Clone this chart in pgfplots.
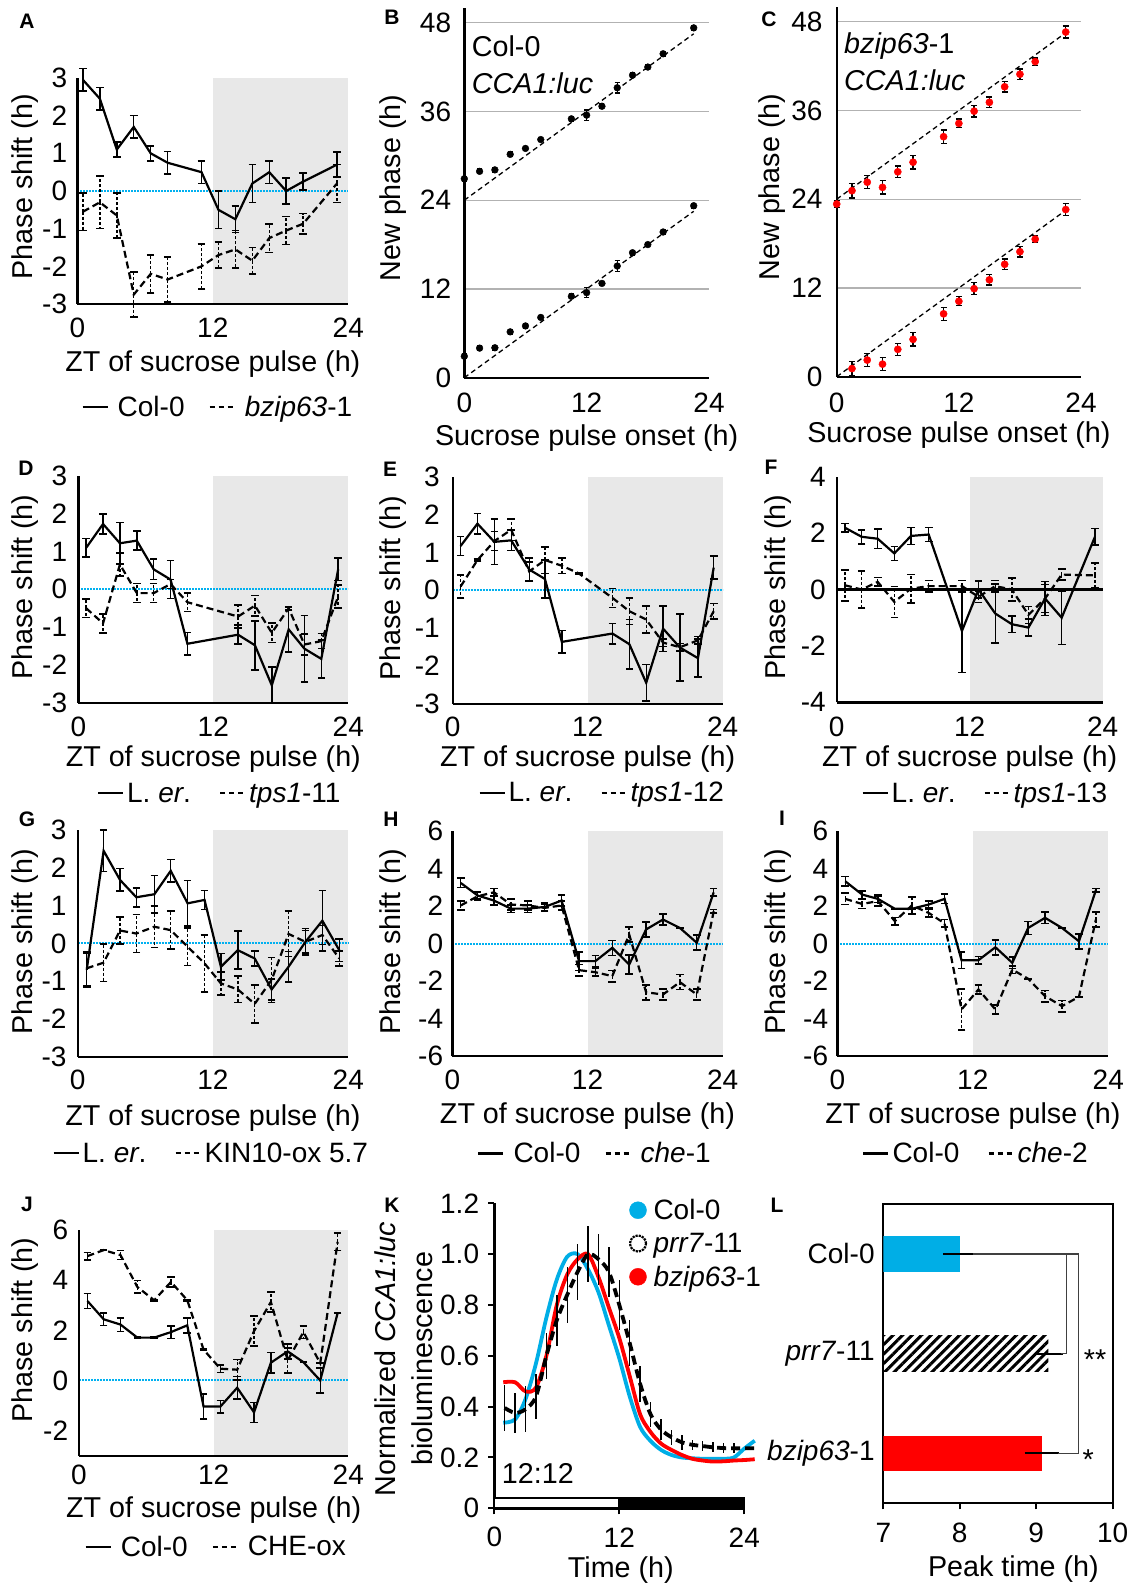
\documentclass[border=0pt]{standalone}
\usepackage{fontspec}
\setmainfont{Liberation Sans}
\usepackage{pgfplots}
\pgfplotsset{compat=1.18}
\usetikzlibrary{patterns.meta}

\definecolor{nightgrey}{RGB}{232,232,232}
\definecolor{zcyan}{RGB}{0,176,240}
\definecolor{kcyan}{RGB}{0,174,230}
\definecolor{kred}{RGB}{255,0,0}

\newcommand\tk{\fontsize{28}{31}\selectfont}
\newcommand\lb{\fontsize{28.7}{32}\selectfont}
\newcommand\pl{\fontsize{21}{24}\selectfont\bfseries}
% grey night half and the zero line of a phase-shift panel
\newcommand\bg[2]{%
  \fill[nightgrey] (axis cs:12,#1) rectangle (axis cs:24,#2);
  \draw[zcyan, densely dotted, line width=2pt] (axis cs:0,0) -- (axis cs:24,0);}

\pgfplotsset{
  base/.style={
    scale only axis, anchor=south west, clip=false,
    axis x line*=bottom, axis y line*=left,
    axis line style={line width=2.4pt, -},
    major tick length=0pt,
    tick label style={font=\tk, inner sep=0pt},
    xticklabel style={anchor=center},
    yticklabel style={anchor=east},
    label style={font=\lb, inner sep=0pt},
    xlabel style={at={(axis description cs:0.5,0)}, anchor=center},
    ylabel style={anchor=center},
  },
  ps/.style={base, axis on top,
    xmin=0, xmax=24, xtick={0,12,24}, xticklabels={0,12,24},
    xlabel={ZT of sucrose pulse (h)}, ylabel={Phase shift (h)},
    legend columns=2,
    legend style={draw=none, fill=none, font=\tk, inner sep=0pt, anchor=center,
      nodes={inner sep=0pt},
      /tikz/every odd column/.append style={column sep=9pt},
      /tikz/every even column/.append style={column sep=24pt}},
    legend image code/.code={\draw[##1] (0pt,0pt) -- (25pt,0pt);},
  },
  tight/.style={legend style={/tikz/every odd column/.append style={column sep=3pt},
      /tikz/every even column/.append style={column sep=28pt}}},
  sl/.style={black, line width=2.2pt, solid, forget plot,
    error bars/.cd, y dir=both, y explicit, error mark=|,
    error bar style={line width=1.4pt, solid},
    error mark options={line width=1.6pt, mark size=3.8pt, solid}},
  dl/.style={black, line width=2.2pt, dash pattern=on 7pt off 4pt, forget plot,
    error bars/.cd, y dir=both, y explicit, error mark=|,
    error bar style={line width=1.4pt, dash pattern=on 3pt off 2pt},
    error mark options={line width=1.6pt, mark size=3.8pt, solid}},
}
\newcommand\legs[2]{%
  \addlegendimage{black, line width=2.2pt}
  \addlegendentry{#1}
  \addlegendimage{black, line width=2.2pt, dash pattern=on 5pt off 4pt}
  \addlegendentry{#2}}

\begin{document}
\begin{tikzpicture}

% ---------- A ----------
\begin{axis}[ps, at={(77.3pt,-304pt)}, width=271pt, height=226pt,
  ymin=-3, ymax=3, ytick={-3,-2,-1,0,1,2,3}, yticklabels={-3,-2,-1,0,1,2,3},
  xticklabel style={yshift=-24pt}, yticklabel style={xshift=-10pt},
  xlabel style={yshift=-60pt}, ylabel style={at={(axis description cs:-0.193,0.519)}},
  legend style={at={(axis description cs:0.515,-0.455)}}]
\bg{-3}{3}
\legs{Col-0}{\textit{bzip63}-1}
\addplot[sl] table[y error index=2] {
0.5 2.95 0.3
2 2.45 0.3
3.5 1.1 0.2
5 1.7 0.3
6.5 1.0 0.2
8 0.75 0.3
11 0.5 0.3
12.5 -0.5 0.5
14 -0.75 0.35
15.5 0.2 0.5
17 0.5 0.3
18.5 0.0 0.35
20 0.25 0.22
23 0.7 0.33
};
\addplot[dl] table[y error index=2] {
0.5 -0.55 0.5
2 -0.3 0.7
3.5 -0.65 0.6
5 -2.75 0.6
6.5 -2.2 0.5
8 -2.35 0.6
11 -2.0 0.6
12.5 -1.7 0.35
14 -1.55 0.5
15.5 -1.85 0.35
17 -1.25 0.38
18.5 -1.05 0.37
20 -0.87 0.27
23 0.2 0.5
};
\end{axis}

% ---------- B ----------
\begin{axis}[base, at={(464.3pt,-377.7pt)}, width=244.7pt, height=369.8pt,
  xmin=0, xmax=24, ymin=0, ymax=50, xtick={0,12,24}, xticklabels={0,12,24},
  ytick={0,12,24,36,48}, yticklabels={0,12,24,36,48},
  ymajorgrids, grid style={line width=1.2pt, gray!60},
  xticklabel style={yshift=-25pt}, yticklabel style={xshift=-13pt},
  xlabel={Sucrose pulse onset (h)}, ylabel={New phase (h)},
  xlabel style={yshift=-60pt}, ylabel style={at={(axis description cs:-0.291,0.513)}}]
\addplot[black, line width=1.3pt, dash pattern=on 5pt off 3.5pt] coordinates {(0,0) (22.5,22.5)};
\addplot[black, line width=1.3pt, dash pattern=on 5pt off 3.5pt] coordinates {(0,24) (22.5,46.5)};
\addplot[only marks, mark=*, mark size=3.4pt, black, error bars/.cd, y dir=both, y explicit, error mark=|,
  error bar style={line width=1.3pt}, error mark options={line width=1.3pt, mark size=2.5pt}]
  table[y error index=2] {
0 2.9 0.3
1.5 4.0 0.3
3 4.05 0.3
4.5 6.2 0.3
6 7.0 0.3
7.5 8.15 0.3
10.5 11.0 0.3
12 11.5 0.7
13.5 12.75 0.3
15 15.1 0.7
16.5 16.9 0.3
18 18.0 0.3
19.5 19.7 0.3
22.5 23.25 0.3
0 26.9 0.3
1.5 27.9 0.3
3 28.1 0.3
4.5 30.2 0.3
6 31.0 0.3
7.5 32.2 0.3
10.5 35.0 0.3
12 35.5 0.7
13.5 36.7 0.3
15 39.2 0.7
16.5 40.9 0.3
18 42.0 0.3
19.5 43.8 0.3
22.5 47.3 0.3
};
\node[anchor=base west, inner sep=0pt, font=\lb] at (axis cs:0.73,43.4) {Col-0};
\node[anchor=base west, inner sep=0pt, font=\lb] at (axis cs:0.73,38.4) {\textit{CCA1:luc}};
\end{axis}

% ---------- C ----------
\begin{axis}[base, at={(836.7pt,-376.7pt)}, width=244.3pt, height=369.8pt,
  xmin=0, xmax=24, ymin=0, ymax=50, xtick={0,12,24}, xticklabels={0,12,24},
  ytick={0,12,24,36,48}, yticklabels={0,12,24,36,48},
  ymajorgrids, grid style={line width=1.2pt, gray!60},
  xticklabel style={yshift=-26pt}, yticklabel style={xshift=-14pt},
  xlabel={Sucrose pulse onset (h)}, ylabel={New phase (h)},
  xlabel style={yshift=-58pt}, ylabel style={at={(axis description cs:-0.266,0.513)}}]
\addplot[black, line width=1.3pt, dash pattern=on 5pt off 3.5pt] coordinates {(0,0) (22.5,22.5)};
\addplot[black, line width=1.3pt, dash pattern=on 5pt off 3.5pt] coordinates {(0,24) (22.5,46.5)};
\addplot[only marks, mark=*, mark size=3.6pt, color=kred, error bars/.cd, y dir=both, y explicit, error mark=|,
  error bar style={line width=1.3pt, black}, error mark options={line width=1.3pt, mark size=3pt, black}]
  table[y error index=2] {
1.5 1.1 1.0
3 2.25 0.9
4.5 1.7 0.9
6 3.7 0.8
7.5 5.05 0.9
10.5 8.5 0.9
12 10.2 0.6
13.5 11.9 0.8
15 13.1 0.7
16.5 15.2 0.7
18 16.9 0.7
19.5 18.6 0.5
22.5 22.6 0.8
0 23.35 0.5
1.5 25.15 1.0
3 26.3 0.9
4.5 25.6 0.9
6 27.7 0.8
7.5 29.0 0.9
10.5 32.45 0.9
12 34.25 0.6
13.5 35.9 0.8
15 37.1 0.7
16.5 39.2 0.7
18 40.9 0.7
19.5 42.6 0.5
22.5 46.6 0.8
};
\node[anchor=base west, inner sep=0pt, font=\lb] at (axis cs:0.72,43.7) {\textit{bzip63}-1};
\node[anchor=base west, inner sep=0pt, font=\lb] at (axis cs:0.72,38.7) {\textit{CCA1:luc}};
\end{axis}

% ---------- D ----------
\begin{axis}[ps, tight, at={(78.3pt,-702.7pt)}, width=270pt, height=226.7pt,
  ymin=-3, ymax=3, ytick={-3,-2,-1,0,1,2,3}, yticklabels={-3,-2,-1,0,1,2,3},
  xticklabel style={yshift=-24pt}, yticklabel style={xshift=-11pt},
  xlabel style={yshift=-56pt}, ylabel style={at={(axis description cs:-0.197,0.51)}},
  legend style={at={(axis description cs:0.52,-0.4)}}]
\bg{-3}{3}
\legs{L. \textit{er}.}{\textit{tps1}-11}
\addplot[sl] table[y error index=2] {
0.7 1.1 0.25
2.2 1.73 0.27
3.7 1.22 0.55
5.2 1.29 0.25
6.7 0.53 0.27
8.2 0.26 0.5
9.7 -1.44 0.3
14.2 -1.2 0.25
15.7 -1.48 0.65
17.2 -2.54 0.48
18.7 -1.06 0.6
20.1 -1.57 0.88
21.6 -1.84 0.5
23.1 0.53 0.3
};
\addplot[dl] table[y error index=2] {
0.7 -0.5 0.25
2.2 -0.9 0.25
3.7 0.66 0.3
5.2 -0.1 0.25
6.7 -0.1 0.25
8.2 0.14 0.12
9.7 -0.34 0.25
14.2 -0.72 0.3
15.7 -0.43 0.27
17.2 -1.15 0.26
18.7 -0.5 0.05
20.1 -1.46 0.28
21.6 -1.37 0.2
23.1 -0.19 0.3
};
\end{axis}

% ---------- E ----------
\begin{axis}[ps, tight, at={(452.7pt,-704pt)}, width=270pt, height=227.3pt,
  ymin=-3, ymax=3, ytick={-3,-2,-1,0,1,2,3}, yticklabels={-3,-2,-1,0,1,2,3},
  xticklabel style={yshift=-23pt}, yticklabel style={xshift=-12.7pt},
  xlabel style={yshift=-55pt}, ylabel style={at={(axis description cs:-0.22,0.51)}},
  legend style={at={(axis description cs:0.55,-0.39)}}]
\bg{-3}{3}
\legs{L. \textit{er}.}{\textit{tps1}-12}
\addplot[sl] table[y error index=2] {
0.7 1.17 0.25
2.2 1.76 0.27
3.7 1.28 0.6
5.2 1.32 0.27
6.8 0.55 0.3
8.2 0.3 0.5
9.7 -1.36 0.3
14.2 -1.14 0.27
15.7 -1.42 0.65
17.2 -2.44 0.48
18.7 -1.01 0.6
20.2 -1.51 0.88
21.8 -1.79 0.5
23.2 0.6 0.3
};
\addplot[dl] table[y error index=2] {
0.7 0.1 0.3
2.2 0.8 0.02
3.7 1.3 0.25
5.2 1.6 0.28
6.8 0.5 0.25
8.2 0.8 0.35
9.7 0.65 0.2
11.2 0.45 0.02
14.2 -0.2 0.25
15.7 -0.55 0.35
17.2 -0.77 0.35
18.7 -1.38 0.1
20.2 -1.5 0.1
21.8 -1.32 0.1
23.2 -0.55 0.2
};
\end{axis}

% ---------- F ----------
\begin{axis}[ps, tight, at={(836.7pt,-702.3pt)}, width=266pt, height=225.6pt,
  ymin=-4, ymax=4, ytick={-4,-2,0,2,4}, yticklabels={-4,-2,0,2,4},
  xticklabel style={yshift=-24.4pt}, yticklabel style={xshift=-10.7pt},
  xlabel style={yshift=-57pt}, ylabel style={at={(axis description cs:-0.22,0.51)}},
  legend style={at={(axis description cs:0.555,-0.403)}}]
\bg{-4}{4}
\draw[black, line width=2.4pt] (axis cs:0,0) -- (axis cs:24,0);
\legs{L. \textit{er}.}{\textit{tps1}-13}
\addplot[sl] table[y error index=2] {
0.75 2.19 0.15
2.25 1.87 0.25
3.7 1.8 0.35
5.2 1.28 0.25
6.7 1.9 0.3
8.3 1.95 0.25
11.3 -1.47 1.47
12.8 0 0.3
14.3 -0.85 1.05
15.8 -1.23 0.3
17.3 -1.35 0.3
18.8 -0.32 0.6
20.3 -1.0 0.95
23.3 1.87 0.3
};
\addplot[dl] table[y error index=2] {
0.75 0.15 0.55
2.25 0 0.65
3.7 0.27 0.15
5.2 -0.44 0.55
6.7 0.03 0.5
8.3 0.12 0.2
11.3 0.12 0.2
12.8 -0.26 0.2
14.3 0.12 0.2
15.8 0 0.4
17.3 -0.9 0.3
18.8 -0.32 0.5
20.3 0.53 0.2
23.3 0.5 0.45
};
\end{axis}

% ---------- G ----------
\begin{axis}[ps, tight, at={(77.7pt,-1056.7pt)}, width=270.6pt, height=226.7pt,
  ymin=-3, ymax=3, ytick={-3,-2,-1,0,1,2,3}, yticklabels={-3,-2,-1,0,1,2,3},
  xticklabel style={yshift=-23.3pt}, yticklabel style={xshift=-11pt},
  xlabel style={yshift=-61pt}, ylabel style={at={(axis description cs:-0.195,0.507)}},
  legend style={at={(axis description cs:0.49,-0.426)}}]
\bg{-3}{3}
\legs{L. \textit{er}.}{KIN10-ox 5.7}
\addplot[sl] table[y error index=2] {
0.8 -0.7 0.45
2.3 2.45 0.55
3.75 1.68 0.3
5.2 1.22 0.25
6.8 1.3 0.5
8.25 1.92 0.3
9.75 1.06 0.6
11.25 1.15 0.25
12.7 -0.62 0.35
14.2 -0.18 0.5
15.7 -0.4 0.2
17.2 -1.22 0.28
18.7 -0.62 0.4
20.2 0.04 0.35
21.7 0.6 0.8
23.2 -0.18 0.3
};
\addplot[dl] table[y error index=2] {
0.8 -0.66 0.45
2.3 -0.51 0.5
3.75 0.34 0.35
5.2 0.26 0.5
6.8 0.44 0.55
8.25 0.35 0.5
9.75 -0.09 0.5
11.25 -0.53 0.75
12.7 -1.06 0.3
14.2 -1.22 0.35
15.7 -1.6 0.5
17.2 -0.97 0.6
18.7 0.25 0.6
20.2 0.04 0.3
21.7 0.22 0.25
23.2 -0.4 0.2
};
\end{axis}

% ---------- H ----------
\begin{axis}[ps, at={(452.3pt,-1056pt)}, width=270.4pt, height=225pt,
  ymin=-6, ymax=6, ytick={-6,-4,-2,0,2,4,6}, yticklabels={-6,-4,-2,0,2,4,6},
  xticklabel style={yshift=-24pt}, yticklabel style={xshift=-9pt},
  xlabel style={yshift=-60pt}, ylabel style={at={(axis description cs:-0.218,0.508)}},
  legend style={at={(axis description cs:0.524,-0.433)}}]
\bg{-6}{6}
\legs{Col-0}{\textit{che}-1}
\addplot[sl] table[y error index=2] {
0.75 3.23 0.25
2.25 2.56 0.2
3.7 2.29 0.25
5.2 1.86 0.2
6.7 1.86 0.2
8.2 1.95 0.2
9.7 2.29 0.3
11.25 -0.94 0.5
12.7 -0.94 0.3
14.2 -0.23 0.4
15.7 -1.12 0.5
17.2 0.75 0.4
18.7 1.28 0.3
20.2 0.83 0.02
21.7 0.04 0.4
23.2 2.73 0.2
};
\addplot[dl] table[y error index=2] {
0.75 2.03 0.25
2.25 2.52 0.2
3.7 2.73 0.2
5.2 2.08 0.3
6.7 2.03 0.25
8.2 1.9 0.2
9.7 2.03 0.25
11.25 -1.42 0.3
12.7 -1.53 0.2
14.2 -1.74 0.3
15.7 0.48 0.4
17.2 -2.6 0.4
18.7 -2.72 0.3
20.2 -2.06 0.4
21.7 -2.72 0.3
23.2 1.72 0.1
};
\end{axis}

% ---------- I ----------
\begin{axis}[ps, tight, at={(837.3pt,-1056pt)}, width=271pt, height=225pt,
  ymin=-6, ymax=6, ytick={-6,-4,-2,0,2,4,6}, yticklabels={-6,-4,-2,0,2,4,6},
  xticklabel style={yshift=-24pt}, yticklabel style={xshift=-9pt},
  xlabel style={yshift=-60pt}, ylabel style={at={(axis description cs:-0.218,0.508)}},
  legend style={at={(axis description cs:0.508,-0.433)}}]
\bg{-6}{6}
\legs{Col-0}{\textit{che}-2}
\addplot[sl] table[y error index=2] {
0.7 3.32 0.25
2.2 2.61 0.2
3.6 2.38 0.2
5.1 1.85 0.02
6.6 1.85 0.02
8.1 2.08 0.2
9.5 2.38 0.25
11.0 -0.89 0.45
12.5 -0.89 0.2
14.0 -0.2 0.4
15.5 -1.03 0.3
16.9 0.83 0.35
18.4 1.37 0.3
19.9 0.83 0.02
21.4 0.12 0.4
22.9 2.84 0.1
};
\addplot[dl] table[y error index=2] {
0.7 2.38 0.3
2.2 2.11 0.25
3.6 2.26 0.25
5.1 1.19 0.2
6.6 2.03 0.45
8.1 1.63 0.2
9.5 1.07 0.2
11.0 -3.52 1.1
12.5 -2.45 0.25
14.0 -3.52 0.25
15.5 -1.39 0.2
16.9 -1.88 0.02
18.4 -2.81 0.3
19.9 -3.34 0.3
21.4 -2.84 0.02
22.9 1.28 0.4
};
\end{axis}

% ---------- J ----------
\begin{axis}[ps, at={(79pt,-1455.7pt)}, width=269.3pt, height=225.7pt,
  ymin=-3, ymax=6, ytick={-2,0,2,4,6}, yticklabels={-2,0,2,4,6},
  xticklabel style={yshift=-19.3pt}, yticklabel style={xshift=-10.7pt},
  xlabel style={yshift=-54pt}, ylabel style={at={(axis description cs:-0.2,0.557)}},
  legend style={at={(axis description cs:0.506,-0.403)}}]
\bg{-3}{6}
\legs{Col-0}{CHE-ox}
\addplot[sl] table[y error index=2] {
0.75 3.17 0.3
2.2 2.44 0.25
3.7 2.23 0.27
5.2 1.71 0.02
6.7 1.71 0.02
8.2 1.93 0.25
9.65 2.2 0.3
11.1 -1.04 0.5
12.6 -1.04 0.25
14.1 -0.29 0.45
15.6 -1.27 0.4
17.1 0.71 0.4
18.6 1.16 0.3
20.0 0.73 0.02
21.5 0 0.5
23.05 2.69 0.02
};
\addplot[dl] table[y error index=2] {
0.75 4.96 0.15
2.2 5.2 0.02
3.7 5.0 0.18
5.2 3.73 0.25
6.7 3.2 0.02
8.2 3.93 0.2
9.65 3.2 0.02
11.1 1.23 0.02
12.6 0.47 0.15
14.1 0.43 0.4
15.6 1.97 0.6
17.1 3.13 0.4
18.6 0.8 0.5
20.0 1.93 0.25
21.5 0.69 0.02
23.05 5.53 0.35
};
\end{axis}

% ---------- K ----------
\begin{axis}[base, at={(494.3pt,-1508.3pt)}, width=250pt, height=305pt,
  xmin=0, xmax=24, ymin=0, ymax=1.2,
  xtick={0,12,24}, xticklabels={0,12,24},
  ytick={0,0.2,0.4,0.6,0.8,1.0,1.2}, yticklabels={0,0.2,0.4,0.6,0.8,1.0,1.2},
  major tick length=6pt, tick align=outside, tick style={line width=2pt, black},
  xticklabel style={yshift=-23pt}, yticklabel style={xshift=-9pt},
  xlabel={Time (h)}, xlabel style={at={(axis description cs:0.506,0)}, yshift=-62pt},
  ylabel={Normalized \textit{CCA1:luc}\\bioluminescence},
  ylabel style={at={(axis description cs:-0.363,0.49)}, align=center, font=\fontsize{28.7}{37}\selectfont},
  legend cell align=left,
  legend style={at={(axis description cs:0.54,1.017)}, anchor=north west, draw=none, fill=none,
    font=\tk, inner sep=0pt, row sep=10pt, nodes={inner sep=1pt},
    /tikz/every odd column/.append style={column sep=6pt}}]
\addlegendimage{only marks, mark=*, mark size=8.5pt, kcyan}
\addlegendentry{Col-0}
\addlegendimage{only marks, mark=o, mark size=8pt, black, mark options={densely dotted, line width=2.2pt}}
\addlegendentry{\textit{prr7}-11}
\addlegendimage{only marks, mark=*, mark size=8.5pt, kred}
\addlegendentry{\textit{bzip63}-1}
\addplot[kcyan, line width=3.8pt, smooth, forget plot] table {
0.86 0.337
2 0.35
3 0.43
4 0.57
5 0.75
6 0.9
7 0.99
8 1.0
9 0.94
10 0.85
11 0.72
12 0.59
13 0.44
14 0.32
15 0.265
16 0.23
17 0.21
18 0.2
19 0.197
20 0.195
21 0.195
22 0.195
23 0.2
24 0.235
25 0.266
};
\addplot[kred, line width=3.8pt, smooth, forget plot] table {
0.86 0.496
2 0.496
3 0.46
4 0.475
5 0.6
6 0.8
7 0.92
8 0.98
9 1.0
10 0.91
11 0.79
12 0.67
13 0.52
14 0.37
15 0.3
16 0.255
17 0.23
18 0.21
19 0.195
20 0.188
21 0.184
22 0.185
23 0.188
24 0.19
25 0.193
};
\addplot[black, line width=3.8pt, dash pattern=on 9pt off 5pt, smooth, forget plot,
  error bars/.cd, y dir=both, y explicit, error mark=none,
  error bar style={line width=1.4pt, solid}] table[y error index=2] {
1 0.395 0.09
2 0.375 0.08
3 0.39 0.09
4 0.44 0.09
5 0.6 0.09
6 0.74 0.1
7 0.84 0.11
8 0.93 0.11
9 1.0 0.11
10 0.98 0.1
11 0.93 0.1
12 0.8 0.1
13 0.65 0.09
14 0.49 0.07
15 0.37 0.05
16 0.31 0.04
17 0.28 0.03
18 0.26 0.03
19 0.25 0.02
20 0.245 0.02
21 0.24 0.02
22 0.237 0.02
23 0.236 0.02
24 0.236 0
25 0.236 0
};
\draw[line width=2pt, fill=white] (axis cs:0,0) rectangle (axis cs:12,0.042);
\draw[line width=2pt, fill=black] (axis cs:12,0) rectangle (axis cs:24,0.042);
\node[anchor=west, inner sep=0pt, font=\lb] at (axis cs:0.71,0.138) {12:12};
\end{axis}

% ---------- L ----------
\begin{axis}[scale only axis, anchor=south west, at={(883.3pt,-1503.3pt)}, width=229.4pt, height=299.3pt,
  xmin=7, xmax=10, ymin=0.5, ymax=3.5,
  axis line style={line width=2pt},
  xtick={7,8,9,10}, xticklabels={7,8,9,10}, ytick={1,2,3},
  yticklabels={\textit{bzip63}-1,\textit{prr7}-11,Col-0},
  xtick pos=bottom, ytick pos=left,
  tick align=outside, major tick length=6pt, xtick style={line width=2pt, black}, ytick style={draw=none},
  tick label style={font=\tk, inner sep=0pt},
  xticklabel style={anchor=center, yshift=-24pt},
  yticklabel style={anchor=east, xshift=-2.5pt},
  xlabel={Peak time (h)}, label style={font=\lb, inner sep=0pt},
  xlabel style={at={(axis description cs:0.567,0)}, anchor=center, yshift=-66pt},
  xbar, bar width=35.7pt, bar shift=0pt]
\addplot[fill=kcyan, draw=none, error bars/.cd, x dir=both, x explicit,
  error bar style={line width=2pt, black}, error mark options={line width=2pt, mark size=4pt, black}]
  coordinates {(8.0,3) +- (0.17,0)};
\addplot[draw=none, pattern={Lines[angle=45, distance=6.7pt, line width=3pt]}, pattern color=black,
  error bars/.cd, x dir=both, x explicit,
  error bar style={line width=2pt, black}, error mark options={line width=2pt, mark size=4pt, black}]
  coordinates {(9.16,2) +- (0.14,0)};
\addplot[fill=kred, draw=none, error bars/.cd, x dir=both, x explicit,
  error bar style={line width=2pt, black}, error mark options={line width=2pt, mark size=4pt, black}]
  coordinates {(9.07,1) +- (0.17,0)};
\draw[line width=1.3pt, black!75] (axis cs:8.17,3) -- (axis cs:9.55,3) -- (axis cs:9.55,1) -- (axis cs:9.29,1);
\draw[line width=1.3pt, black!75] (axis cs:9.40,3) -- (axis cs:9.40,2) -- (axis cs:9.32,2);
\node[font=\lb, yshift=-6pt] at (axis cs:9.77,2) {**};
\node[font=\lb, yshift=-6pt] at (axis cs:9.68,1) {*};
\end{axis}

% panel letters
\node[font=\pl] at (27pt,-21pt) {A};
\node[font=\pl] at (392pt,-17pt) {B};
\node[font=\pl] at (769pt,-19pt) {C};
\node[font=\pl] at (26pt,-468pt) {D};
\node[font=\pl] at (390pt,-469pt) {E};
\node[font=\pl] at (771pt,-467pt) {F};
\node[font=\pl] at (27pt,-819pt) {G};
\node[font=\pl] at (391pt,-819pt) {H};
\node[font=\pl] at (782pt,-818pt) {I};
\node[font=\pl] at (27pt,-1204pt) {J};
\node[font=\pl] at (392pt,-1205pt) {K};
\node[font=\pl] at (777pt,-1205pt) {L};

% fix the page to the reference's frame
\pgfresetboundingbox
\useasboundingbox (0,0) rectangle (1137pt,-1584pt);
\end{tikzpicture}
\end{document}
